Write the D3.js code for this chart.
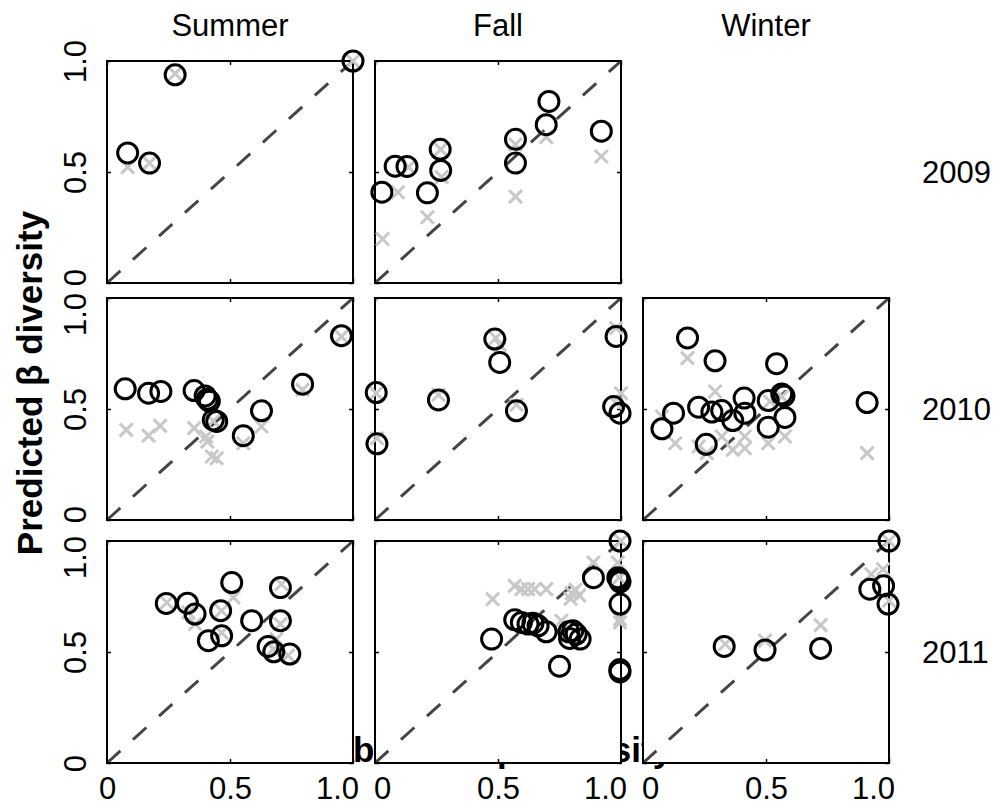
<!DOCTYPE html>
<html>
<head>
<meta charset="utf-8">
<script src="https://cdn.jsdelivr.net/npm/d3@7"></script>
<style>
  body { margin: 0; background: #fff; }
  text { font-family: "Liberation Sans", Arial, sans-serif; fill: #000; }
</style>
</head>
<body>
<svg id="chart" width="1001" height="810"></svg>
<script>
// ---- data -------------------------------------------------------------
const seasons = ["Summer", "Fall", "Winter"];
const years = ["2009", "2010", "2011"];
const tickValues = [0, 0.5, 1];
const tickLabels = ["0", "0.5", "1.0"];

// [observed, predicted] pairs; *_o = circle model, *_x = cross model
const summer2009_o = [[0.277,0.938],[0.084,0.586],[0.173,0.540],[1.0,1.0]];
const summer2009_x = [[0.277,0.943],[0.084,0.522],[0.173,0.540],[1.0,1.0]];

const fall2009_o = [[0.028,0.409],[0.082,0.526],[0.130,0.525],[0.265,0.602],[0.267,0.507],
  [0.213,0.406],[0.571,0.647],[0.571,0.540],[0.696,0.713],[0.707,0.818],[0.920,0.684]];
const fall2009_x = [[0.031,0.198],[0.093,0.409],[0.136,0.522],[0.213,0.296],[0.267,0.602],
  [0.271,0.477],[0.571,0.624],[0.571,0.389],[0.696,0.657],[0.920,0.570]];

const summer2010_o = [[0.074,0.591],[0.169,0.571],[0.219,0.579],[0.354,0.583],[0.399,0.559],
  [0.408,0.544],[0.416,0.535],[0.432,0.451],[0.446,0.444],[0.554,0.380],[0.628,0.492],
  [0.795,0.612],[0.953,0.830]];
const summer2010_x = [[0.078,0.406],[0.169,0.380],[0.216,0.424],[0.354,0.414],[0.403,0.376],
  [0.408,0.353],[0.426,0.286],[0.446,0.278],[0.432,0.446],[0.554,0.346],[0.628,0.421],
  [0.795,0.586],[0.953,0.826]];

const fall2010_o = [[0.005,0.574],[0.008,0.343],[0.258,0.541],[0.487,0.815],[0.507,0.710],
  [0.575,0.492],[0.980,0.827],[0.970,0.511],[0.996,0.481]];
const fall2010_x = [[0.005,0.571],[0.008,0.368],[0.258,0.564],[0.491,0.820],[0.507,0.789],
  [0.575,0.519],[0.980,0.865],[1.0,0.571],[0.980,0.526]];

const winter2010_o = [[0.181,0.820],[0.293,0.717],[0.543,0.704],[0.124,0.481],[0.077,0.411],
  [0.226,0.508],[0.280,0.486],[0.320,0.493],[0.365,0.448],[0.411,0.549],[0.414,0.481],
  [0.257,0.341],[0.509,0.538],[0.509,0.418],[0.564,0.568],[0.573,0.559],[0.577,0.462],
  [0.911,0.529]];
const winter2010_x = [[0.181,0.729],[0.293,0.579],[0.077,0.466],[0.131,0.346],[0.226,0.331],
  [0.259,0.301],[0.320,0.376],[0.365,0.316],[0.414,0.376],[0.414,0.323],[0.509,0.346],
  [0.577,0.376],[0.564,0.556],[0.516,0.534],[0.911,0.301]];

const summer2011_o = [[0.241,0.719],[0.327,0.720],[0.358,0.671],[0.507,0.813],[0.462,0.686],
  [0.466,0.573],[0.412,0.551],[0.588,0.641],[0.705,0.790],[0.705,0.641],[0.655,0.525],
  [0.678,0.501],[0.743,0.491]];
const summer2011_x = [[0.243,0.723],[0.331,0.678],[0.358,0.626],[0.466,0.686],[0.514,0.746],
  [0.466,0.587],[0.709,0.805],[0.705,0.626],[0.689,0.558],[0.676,0.513],[0.736,0.484]];

const fall2011_o = [[0.996,1.0],[0.888,0.835],[0.987,0.835],[0.993,0.826],[0.996,0.816],
  [0.996,0.716],[0.995,0.421],[0.996,0.410],[0.568,0.645],[0.595,0.633],[0.622,0.626],
  [0.642,0.630],[0.663,0.618],[0.696,0.591],[0.474,0.558],[0.750,0.436],[0.788,0.591],
  [0.804,0.596],[0.818,0.581],[0.834,0.558],[0.791,0.561]];
const fall2011_x = [[0.478,0.738],[0.568,0.798],[0.595,0.783],[0.622,0.783],[0.649,0.783],
  [0.696,0.783],[0.800,0.765],[0.815,0.780],[0.830,0.755],[0.795,0.740],[0.888,0.903],
  [0.987,0.903],[1.0,1.0],[0.993,0.835],[0.996,0.648],[0.996,0.633],[0.757,0.641]];

const winter2011_o = [[1.0,1.0],[0.922,0.783],[0.978,0.798],[0.996,0.716],[0.330,0.525],
  [0.496,0.509],[0.722,0.516]];
const winter2011_x = [[1.0,1.0],[0.928,0.850],[0.976,0.873],[1.0,0.731],[0.334,0.536],
  [0.496,0.551],[0.722,0.621]];

// panel grid: row = year index, col = season index
const panels = [
  { row: 0, col: 0, o: summer2009_o, x: summer2009_x },
  { row: 0, col: 1, o: fall2009_o,   x: fall2009_x },
  { row: 1, col: 0, o: summer2010_o, x: summer2010_x },
  { row: 1, col: 1, o: fall2010_o,   x: fall2010_x },
  { row: 1, col: 2, o: winter2010_o, x: winter2010_x },
  { row: 2, col: 0, o: summer2011_o, x: summer2011_x },
  { row: 2, col: 1, o: fall2011_o,   x: fall2011_x },
  { row: 2, col: 2, o: winter2011_o, x: winter2011_x }
];

// ---- layout -----------------------------------------------------------
const W = 246, H = 222;
const colX = [107, 375, 643];
const rowY = [61, 298, 541];
const tickFont = 31, labelFont = 35;

const svg = d3.select("#chart");
const xs = d3.scaleLinear().domain([0, 1]).range([0, W]);
const ys = d3.scaleLinear().domain([0, 1]).range([H, 0]);
const fmt = d => tickLabels[tickValues.indexOf(d)];

// end labels are pulled inward so neighbouring panels' labels don't collide
const xEndShift = (d, col) => d === 1 ? -16 : (d === 0 && col > 0 ? 7 : 0);
const yEndShift = (d, row) => d === 1 && row > 0 ? 16 : (d === 0 && row < 2 ? -6 : 0);

// shared axis titles sit beneath the panels
svg.append("text")
  .attr("x", 499).attr("y", 762)
  .attr("text-anchor", "middle")
  .style("font-size", labelFont + "px").style("font-weight", "bold")
  .text("Observed β diversity");

svg.append("text")
  .attr("transform", "translate(42,383) rotate(-90)")
  .attr("text-anchor", "middle")
  .style("font-size", labelFont + "px").style("font-weight", "bold")
  .text("Predicted β diversity");

// column and row headers
seasons.forEach((s, i) => {
  svg.append("text")
    .attr("x", colX[i] + W / 2).attr("y", 36)
    .attr("text-anchor", "middle")
    .style("font-size", tickFont + "px")
    .text(s);
});
years.forEach((yr, i) => {
  svg.append("text")
    .attr("x", 922).attr("y", rowY[i] + H / 2 + 11)
    .style("font-size", tickFont + "px")
    .text(yr);
});

// ---- panels -----------------------------------------------------------
panels.forEach(p => {
  const g = svg.append("g").attr("transform", `translate(${colX[p.col]},${rowY[p.row]})`);

  g.append("rect").attr("width", W).attr("height", H).attr("fill", "#fff");

  const showX = p.row === 2, showY = p.col === 0;

  const axB = g.append("g").attr("transform", `translate(0,${H})`)
    .call(d3.axisBottom(xs).tickValues(tickValues).tickSize(-4).tickPadding(14)
      .tickFormat(showX ? fmt : () => ""));
  const axT = g.append("g")
    .call(d3.axisTop(xs).tickValues(tickValues).tickSize(-4).tickFormat(() => ""));
  const axL = g.append("g")
    .call(d3.axisLeft(ys).tickValues(tickValues).tickSize(-4)
      .tickFormat(showY ? fmt : () => ""));
  const axR = g.append("g").attr("transform", `translate(${W},0)`)
    .call(d3.axisRight(ys).tickValues(tickValues).tickSize(-4).tickFormat(() => ""));

  [axB, axT, axL, axR].forEach(a => {
    a.select(".domain").remove();
    a.selectAll(".tick line").attr("stroke", "#000").attr("stroke-width", 1.5);
    a.selectAll(".tick text").style("font-size", tickFont + "px")
      .style("font-family", '"Liberation Sans", Arial, sans-serif').attr("fill", "#000");
  });
  axB.selectAll(".tick text").attr("dx", d => xEndShift(d, p.col));
  axL.selectAll(".tick text")
    .attr("x", 0).attr("dy", 0)
    .attr("text-anchor", "middle")
    .attr("transform", d => `translate(-21,${yEndShift(d, p.row)}) rotate(-90)`);

  // 1:1 reference line
  g.append("line")
    .attr("x1", xs(0)).attr("y1", ys(0)).attr("x2", xs(1)).attr("y2", ys(1))
    .attr("stroke", "#444").attr("stroke-width", 3)
    .attr("stroke-dasharray", "18,17");

  g.append("rect").attr("width", W).attr("height", H)
    .attr("fill", "none").attr("stroke", "#000").attr("stroke-width", 2);

  const cs = 6.5;
  g.selectAll("path.cross").data(p.x).enter().append("path")
    .attr("class", "cross")
    .attr("d", d => {
      const cx = xs(d[0]), cy = ys(d[1]);
      return `M${cx - cs},${cy - cs}L${cx + cs},${cy + cs}M${cx - cs},${cy + cs}L${cx + cs},${cy - cs}`;
    })
    .attr("stroke", "#c8c8c8").attr("stroke-width", 3).attr("fill", "none");

  g.selectAll("circle.obs").data(p.o).enter().append("circle")
    .attr("class", "obs")
    .attr("cx", d => xs(d[0])).attr("cy", d => ys(d[1])).attr("r", 10)
    .attr("fill", "none").attr("stroke", "#000").attr("stroke-width", 3);
});
</script>
</body>
</html>
